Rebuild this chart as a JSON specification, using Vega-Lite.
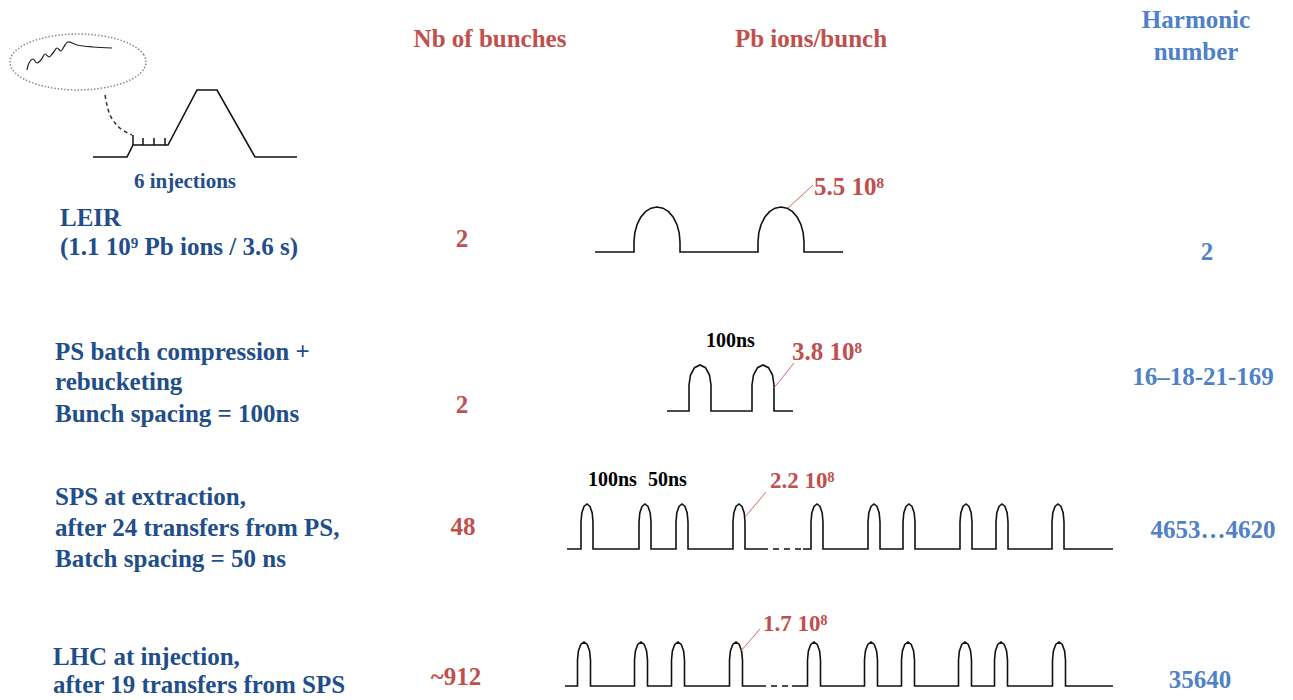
{
"$schema":"https://vega.github.io/schema/vega-lite/v6.json",
"width":1293,"height":700,"autosize":{"type":"none"},"padding":0,
"config":{"view":{"stroke":null},"text":{"font":"Liberation Serif","fontWeight":"bold"}},
"datasets":{
"pts":[
{"g":"leir","x":595,"y":252},{"g":"leir","x":634,"y":252},
{"g":"leir","x":634,"y":242},{"g":"leir","x":634.8,"y":232.9},{"g":"leir","x":637.1,"y":224.5},{"g":"leir","x":640.7,"y":217.3},{"g":"leir","x":645.5,"y":211.7},{"g":"leir","x":651,"y":208.2},{"g":"leir","x":657,"y":207},{"g":"leir","x":663,"y":208.2},{"g":"leir","x":668.5,"y":211.7},{"g":"leir","x":673.3,"y":217.3},{"g":"leir","x":676.9,"y":224.5},{"g":"leir","x":679.2,"y":232.9},{"g":"leir","x":680,"y":242},
{"g":"leir","x":680,"y":252},{"g":"leir","x":758,"y":252},
{"g":"leir","x":758,"y":242},{"g":"leir","x":758.8,"y":232.9},{"g":"leir","x":761.1,"y":224.5},{"g":"leir","x":764.7,"y":217.3},{"g":"leir","x":769.5,"y":211.7},{"g":"leir","x":775,"y":208.2},{"g":"leir","x":781,"y":207},{"g":"leir","x":787,"y":208.2},{"g":"leir","x":792.5,"y":211.7},{"g":"leir","x":797.3,"y":217.3},{"g":"leir","x":800.9,"y":224.5},{"g":"leir","x":803.2,"y":232.9},{"g":"leir","x":804,"y":242},
{"g":"leir","x":804,"y":252},{"g":"leir","x":843,"y":252},

{"g":"ps","x":667,"y":411},{"g":"ps","x":689,"y":411},{"g":"ps","x":689,"y":385},{"g":"ps","x":690.5,"y":375},{"g":"ps","x":694.5,"y":367.7},{"g":"ps","x":700,"y":365},{"g":"ps","x":705.5,"y":367.7},{"g":"ps","x":709.5,"y":375},{"g":"ps","x":711,"y":385},{"g":"ps","x":711,"y":411},
{"g":"ps","x":752,"y":411},{"g":"ps","x":752,"y":385},{"g":"ps","x":753.5,"y":375},{"g":"ps","x":757.5,"y":367.7},{"g":"ps","x":763,"y":365},{"g":"ps","x":768.5,"y":367.7},{"g":"ps","x":772.5,"y":375},{"g":"ps","x":774,"y":385},{"g":"ps","x":774,"y":411},{"g":"ps","x":793,"y":411},

{"g":"spsa","x":567,"y":549},
{"g":"spsa","x":581,"y":549},{"g":"spsa","x":581,"y":522},{"g":"spsa","x":581.8,"y":513},{"g":"spsa","x":584,"y":506.4},{"g":"spsa","x":587,"y":504},{"g":"spsa","x":590,"y":506.4},{"g":"spsa","x":592.2,"y":513},{"g":"spsa","x":593,"y":522},{"g":"spsa","x":593,"y":549},
{"g":"spsa","x":639,"y":549},{"g":"spsa","x":639,"y":522},{"g":"spsa","x":639.8,"y":513},{"g":"spsa","x":642,"y":506.4},{"g":"spsa","x":645,"y":504},{"g":"spsa","x":648,"y":506.4},{"g":"spsa","x":650.2,"y":513},{"g":"spsa","x":651,"y":522},{"g":"spsa","x":651,"y":549},
{"g":"spsa","x":676,"y":549},{"g":"spsa","x":676,"y":522},{"g":"spsa","x":676.8,"y":513},{"g":"spsa","x":679,"y":506.4},{"g":"spsa","x":682,"y":504},{"g":"spsa","x":685,"y":506.4},{"g":"spsa","x":687.2,"y":513},{"g":"spsa","x":688,"y":522},{"g":"spsa","x":688,"y":549},
{"g":"spsa","x":733,"y":549},{"g":"spsa","x":733,"y":522},{"g":"spsa","x":733.8,"y":513},{"g":"spsa","x":736,"y":506.4},{"g":"spsa","x":739,"y":504},{"g":"spsa","x":742,"y":506.4},{"g":"spsa","x":744.2,"y":513},{"g":"spsa","x":745,"y":522},{"g":"spsa","x":745,"y":549},
{"g":"spsa","x":762,"y":549},

{"g":"spsb","x":803,"y":549},
{"g":"spsb","x":811,"y":549},{"g":"spsb","x":811,"y":522},{"g":"spsb","x":811.8,"y":513},{"g":"spsb","x":814,"y":506.4},{"g":"spsb","x":817,"y":504},{"g":"spsb","x":820,"y":506.4},{"g":"spsb","x":822.2,"y":513},{"g":"spsb","x":823,"y":522},{"g":"spsb","x":823,"y":549},
{"g":"spsb","x":868,"y":549},{"g":"spsb","x":868,"y":522},{"g":"spsb","x":868.8,"y":513},{"g":"spsb","x":871,"y":506.4},{"g":"spsb","x":874,"y":504},{"g":"spsb","x":877,"y":506.4},{"g":"spsb","x":879.2,"y":513},{"g":"spsb","x":880,"y":522},{"g":"spsb","x":880,"y":549},
{"g":"spsb","x":903,"y":549},{"g":"spsb","x":903,"y":522},{"g":"spsb","x":903.8,"y":513},{"g":"spsb","x":906,"y":506.4},{"g":"spsb","x":909,"y":504},{"g":"spsb","x":912,"y":506.4},{"g":"spsb","x":914.2,"y":513},{"g":"spsb","x":915,"y":522},{"g":"spsb","x":915,"y":549},
{"g":"spsb","x":960,"y":549},{"g":"spsb","x":960,"y":522},{"g":"spsb","x":960.8,"y":513},{"g":"spsb","x":963,"y":506.4},{"g":"spsb","x":966,"y":504},{"g":"spsb","x":969,"y":506.4},{"g":"spsb","x":971.2,"y":513},{"g":"spsb","x":972,"y":522},{"g":"spsb","x":972,"y":549},
{"g":"spsb","x":996,"y":549},{"g":"spsb","x":996,"y":522},{"g":"spsb","x":996.8,"y":513},{"g":"spsb","x":999,"y":506.4},{"g":"spsb","x":1002,"y":504},{"g":"spsb","x":1005,"y":506.4},{"g":"spsb","x":1007.2,"y":513},{"g":"spsb","x":1008,"y":522},{"g":"spsb","x":1008,"y":549},
{"g":"spsb","x":1052,"y":549},{"g":"spsb","x":1052,"y":522},{"g":"spsb","x":1052.8,"y":513},{"g":"spsb","x":1055,"y":506.4},{"g":"spsb","x":1058,"y":504},{"g":"spsb","x":1061,"y":506.4},{"g":"spsb","x":1063.2,"y":513},{"g":"spsb","x":1064,"y":522},{"g":"spsb","x":1064,"y":549},
{"g":"spsb","x":1113,"y":549},

{"g":"lhca","x":565,"y":686},
{"g":"lhca","x":577.5,"y":686},{"g":"lhca","x":577.5,"y":660},{"g":"lhca","x":578.4,"y":651},{"g":"lhca","x":580.75,"y":644.4},{"g":"lhca","x":584,"y":642},{"g":"lhca","x":587.25,"y":644.4},{"g":"lhca","x":589.6,"y":651},{"g":"lhca","x":590.5,"y":660},{"g":"lhca","x":590.5,"y":686},
{"g":"lhca","x":634.5,"y":686},{"g":"lhca","x":634.5,"y":660},{"g":"lhca","x":635.4,"y":651},{"g":"lhca","x":637.75,"y":644.4},{"g":"lhca","x":641,"y":642},{"g":"lhca","x":644.25,"y":644.4},{"g":"lhca","x":646.6,"y":651},{"g":"lhca","x":647.5,"y":660},{"g":"lhca","x":647.5,"y":686},
{"g":"lhca","x":671.5,"y":686},{"g":"lhca","x":671.5,"y":660},{"g":"lhca","x":672.4,"y":651},{"g":"lhca","x":674.75,"y":644.4},{"g":"lhca","x":678,"y":642},{"g":"lhca","x":681.25,"y":644.4},{"g":"lhca","x":683.6,"y":651},{"g":"lhca","x":684.5,"y":660},{"g":"lhca","x":684.5,"y":686},
{"g":"lhca","x":729.5,"y":686},{"g":"lhca","x":729.5,"y":660},{"g":"lhca","x":730.4,"y":651},{"g":"lhca","x":732.75,"y":644.4},{"g":"lhca","x":736,"y":642},{"g":"lhca","x":739.25,"y":644.4},{"g":"lhca","x":741.6,"y":651},{"g":"lhca","x":742.5,"y":660},{"g":"lhca","x":742.5,"y":686},
{"g":"lhca","x":760,"y":686},

{"g":"lhcb","x":792,"y":686},
{"g":"lhcb","x":807.5,"y":686},{"g":"lhcb","x":807.5,"y":660},{"g":"lhcb","x":808.4,"y":651},{"g":"lhcb","x":810.75,"y":644.4},{"g":"lhcb","x":814,"y":642},{"g":"lhcb","x":817.25,"y":644.4},{"g":"lhcb","x":819.6,"y":651},{"g":"lhcb","x":820.5,"y":660},{"g":"lhcb","x":820.5,"y":686},
{"g":"lhcb","x":864.5,"y":686},{"g":"lhcb","x":864.5,"y":660},{"g":"lhcb","x":865.4,"y":651},{"g":"lhcb","x":867.75,"y":644.4},{"g":"lhcb","x":871,"y":642},{"g":"lhcb","x":874.25,"y":644.4},{"g":"lhcb","x":876.6,"y":651},{"g":"lhcb","x":877.5,"y":660},{"g":"lhcb","x":877.5,"y":686},
{"g":"lhcb","x":901.5,"y":686},{"g":"lhcb","x":901.5,"y":660},{"g":"lhcb","x":902.4,"y":651},{"g":"lhcb","x":904.75,"y":644.4},{"g":"lhcb","x":908,"y":642},{"g":"lhcb","x":911.25,"y":644.4},{"g":"lhcb","x":913.6,"y":651},{"g":"lhcb","x":914.5,"y":660},{"g":"lhcb","x":914.5,"y":686},
{"g":"lhcb","x":958.5,"y":686},{"g":"lhcb","x":958.5,"y":660},{"g":"lhcb","x":959.4,"y":651},{"g":"lhcb","x":961.75,"y":644.4},{"g":"lhcb","x":965,"y":642},{"g":"lhcb","x":968.25,"y":644.4},{"g":"lhcb","x":970.6,"y":651},{"g":"lhcb","x":971.5,"y":660},{"g":"lhcb","x":971.5,"y":686},
{"g":"lhcb","x":994.5,"y":686},{"g":"lhcb","x":994.5,"y":660},{"g":"lhcb","x":995.4,"y":651},{"g":"lhcb","x":997.75,"y":644.4},{"g":"lhcb","x":1001,"y":642},{"g":"lhcb","x":1004.25,"y":644.4},{"g":"lhcb","x":1006.6,"y":651},{"g":"lhcb","x":1007.5,"y":660},{"g":"lhcb","x":1007.5,"y":686},
{"g":"lhcb","x":1052.5,"y":686},{"g":"lhcb","x":1052.5,"y":660},{"g":"lhcb","x":1053.4,"y":651},{"g":"lhcb","x":1055.75,"y":644.4},{"g":"lhcb","x":1059,"y":642},{"g":"lhcb","x":1062.25,"y":644.4},{"g":"lhcb","x":1064.6,"y":651},{"g":"lhcb","x":1065.5,"y":660},{"g":"lhcb","x":1065.5,"y":686},
{"g":"lhcb","x":1113,"y":686},

{"g":"inj","x":93,"y":157},{"g":"inj","x":127,"y":157},{"g":"inj","x":133,"y":145},{"g":"inj","x":168,"y":145},{"g":"inj","x":197,"y":90},{"g":"inj","x":217,"y":90},{"g":"inj","x":255,"y":157},{"g":"inj","x":297,"y":157},

{"g":"wave","x":27,"y":70},{"g":"wave","x":29,"y":63},{"g":"wave","x":33,"y":59},{"g":"wave","x":37,"y":63},{"g":"wave","x":41,"y":60},{"g":"wave","x":45,"y":54},{"g":"wave","x":49,"y":57},{"g":"wave","x":53,"y":53},{"g":"wave","x":57,"y":48},{"g":"wave","x":61,"y":51},{"g":"wave","x":65,"y":45},{"g":"wave","x":68,"y":42},{"g":"wave","x":77,"y":45},{"g":"wave","x":93,"y":47},{"g":"wave","x":112,"y":48},

{"g":"curve","x":105,"y":95},{"g":"curve","x":107,"y":105},{"g":"curve","x":110,"y":115},{"g":"curve","x":115,"y":123},{"g":"curve","x":121,"y":129},{"g":"curve","x":132,"y":135},

{"g":"ell","x":146,"y":62},{"g":"ell","x":143.7,"y":54.7},{"g":"ell","x":136.9,"y":48},{"g":"ell","x":126.1,"y":42.2},{"g":"ell","x":112,"y":37.8},{"g":"ell","x":95.6,"y":35},{"g":"ell","x":78,"y":34},{"g":"ell","x":60.4,"y":35},{"g":"ell","x":44,"y":37.8},{"g":"ell","x":29.9,"y":42.2},{"g":"ell","x":19.1,"y":48},{"g":"ell","x":12.3,"y":54.7},{"g":"ell","x":10,"y":62},{"g":"ell","x":12.3,"y":69.3},{"g":"ell","x":19.1,"y":76},{"g":"ell","x":29.9,"y":81.8},{"g":"ell","x":44,"y":86.2},{"g":"ell","x":60.4,"y":89},{"g":"ell","x":78,"y":90},{"g":"ell","x":95.6,"y":89},{"g":"ell","x":112,"y":86.2},{"g":"ell","x":126.1,"y":81.8},{"g":"ell","x":136.9,"y":76},{"g":"ell","x":143.7,"y":69.3}
],
"seg":[
{"k":"tick","x":133,"y":135,"x2":133,"y2":145},
{"k":"tick","x":143,"y":138,"x2":143,"y2":145},
{"k":"tick","x":154,"y":138,"x2":154,"y2":145},
{"k":"tick","x":165,"y":138,"x2":165,"y2":145},
{"k":"lead","x":788,"y":208,"x2":813,"y2":185},
{"k":"lead","x":774,"y":388,"x2":794,"y2":363},
{"k":"lead","x":745,"y":517,"x2":766,"y2":492},
{"k":"lead","x":740,"y":652,"x2":760,"y2":629},
{"k":"gap","x":762,"y":549,"x2":803,"y2":549},
{"k":"gap","x":760,"y":686,"x2":792,"y2":686}
],
"txt":[
{"r":"hr","x":490,"y":47,"t":"Nb of bunches"},
{"r":"hr","x":811,"y":47,"t":"Pb ions/bunch"},
{"r":"hr","x":462,"y":247,"t":"2"},
{"r":"hr","x":462,"y":413,"t":"2"},
{"r":"hr","x":463,"y":535,"t":"48"},
{"r":"hr","x":456,"y":685,"t":"~912"},
{"r":"hb","x":1196,"y":28,"t":"Harmonic"},
{"r":"hb","x":1196,"y":60,"t":"number"},
{"r":"hb","x":1207,"y":260,"t":"2"},
{"r":"hb","x":1203,"y":385,"t":"16–18-21-169"},
{"r":"hb","x":1213,"y":538,"t":"4653…4620"},
{"r":"hb","x":1200,"y":688,"t":"35640"},
{"r":"d","x":60,"y":226,"t":"LEIR"},
{"r":"d","x":60,"y":255,"t":"(1.1 10⁹ Pb ions / 3.6 s)"},
{"r":"d","x":55,"y":360,"t":"PS batch compression +"},
{"r":"d","x":55,"y":390,"t":"rebucketing"},
{"r":"d","x":55,"y":422,"t":"Bunch spacing = 100ns"},
{"r":"d","x":55,"y":505,"t":"SPS at  extraction,"},
{"r":"d","x":55,"y":536,"t":"after 24 transfers from PS,"},
{"r":"d","x":55,"y":567,"t":"Batch spacing =  50 ns"},
{"r":"d","x":53,"y":665,"t":"LHC at injection,"},
{"r":"d","x":53,"y":693,"t":"after  19 transfers from SPS"},
{"r":"inj","x":185,"y":188,"t":"6 injections"},
{"r":"lab1","x":814,"y":195,"t":"5.5 10⁸"},
{"r":"lab1","x":792,"y":360,"t":"3.8 10⁸"},
{"r":"lab2","x":770,"y":488,"t":"2.2 10⁸"},
{"r":"lab2","x":763,"y":631,"t":"1.7 10⁸"},
{"r":"ns","x":706,"y":347,"t":"100ns"},
{"r":"ns","x":588,"y":486,"t":"100ns"},
{"r":"ns","x":648,"y":486,"t":"50ns"}
]
},
"encoding":{
"x":{"field":"x","type":"quantitative","scale":{"domain":[0,1293],"nice":false,"zero":false},"axis":null},
"y":{"field":"y","type":"quantitative","scale":{"domain":[700,0],"nice":false,"zero":false},"axis":null}
},
"layer":[
{"data":{"name":"pts"},"transform":[{"filter":"datum.g === 'ell'"}],"mark":{"type":"line","color":"#8a8a8a","strokeWidth":1.5,"strokeDash":[1.5,1.8],"interpolate":"cardinal-closed"},"encoding":{"order":{"value":null}}},
{"data":{"name":"pts"},"transform":[{"filter":"datum.g !== 'wave' && datum.g !== 'curve' && datum.g !== 'ell'"}],"mark":{"type":"line","color":"#111111","strokeWidth":1.6,"interpolate":"linear"},"encoding":{"detail":{"field":"g"},"order":{"value":null}}},
{"data":{"name":"pts"},"transform":[{"filter":"datum.g === 'wave'"}],"mark":{"type":"line","color":"#222222","strokeWidth":1.2,"interpolate":"catmull-rom"},"encoding":{"order":{"value":null}}},
{"data":{"name":"pts"},"transform":[{"filter":"datum.g === 'curve'"}],"mark":{"type":"line","color":"#333333","strokeWidth":1.5,"strokeDash":[4,3],"interpolate":"catmull-rom"},"encoding":{"order":{"value":null}}},
{"data":{"name":"seg"},"transform":[{"filter":"datum.k === 'tick'"}],"mark":{"type":"rule","color":"#111111","strokeWidth":1.5},"encoding":{"x2":{"field":"x2"},"y2":{"field":"y2"}}},
{"data":{"name":"seg"},"transform":[{"filter":"datum.k === 'gap'"}],"mark":{"type":"rule","color":"#111111","strokeWidth":1.5,"strokeDash":[6,5]},"encoding":{"x2":{"field":"x2"},"y2":{"field":"y2"}}},
{"data":{"name":"seg"},"transform":[{"filter":"datum.k === 'lead'"}],"mark":{"type":"rule","color":"#D06A66","strokeWidth":1},"encoding":{"x2":{"field":"x2"},"y2":{"field":"y2"}}},
{"data":{"name":"txt"},"transform":[{"filter":"datum.r === 'hr'"}],"mark":{"type":"text","align":"center","baseline":"alphabetic","font":"Liberation Serif","fontWeight":"bold","fontSize":25,"color":"#C0504D"},"encoding":{"text":{"field":"t"}}},
{"data":{"name":"txt"},"transform":[{"filter":"datum.r === 'hb'"}],"mark":{"type":"text","align":"center","baseline":"alphabetic","font":"Liberation Serif","fontWeight":"bold","fontSize":25,"color":"#4F81C7"},"encoding":{"text":{"field":"t"}}},
{"data":{"name":"txt"},"transform":[{"filter":"datum.r === 'd'"}],"mark":{"type":"text","align":"left","baseline":"alphabetic","font":"Liberation Serif","fontWeight":"bold","fontSize":25,"color":"#1F4E8A"},"encoding":{"text":{"field":"t"}}},
{"data":{"name":"txt"},"transform":[{"filter":"datum.r === 'inj'"}],"mark":{"type":"text","align":"center","baseline":"alphabetic","font":"Liberation Serif","fontWeight":"bold","fontSize":21,"color":"#1F4E8A"},"encoding":{"text":{"field":"t"}}},
{"data":{"name":"txt"},"transform":[{"filter":"datum.r === 'lab1'"}],"mark":{"type":"text","align":"left","baseline":"alphabetic","font":"Liberation Serif","fontWeight":"bold","fontSize":25,"color":"#C0504D"},"encoding":{"text":{"field":"t"}}},
{"data":{"name":"txt"},"transform":[{"filter":"datum.r === 'lab2'"}],"mark":{"type":"text","align":"left","baseline":"alphabetic","font":"Liberation Serif","fontWeight":"bold","fontSize":23,"color":"#C0504D"},"encoding":{"text":{"field":"t"}}},
{"data":{"name":"txt"},"transform":[{"filter":"datum.r === 'ns'"}],"mark":{"type":"text","align":"left","baseline":"alphabetic","font":"Liberation Serif","fontWeight":"bold","fontSize":20,"color":"#000000"},"encoding":{"text":{"field":"t"}}}
]
}
